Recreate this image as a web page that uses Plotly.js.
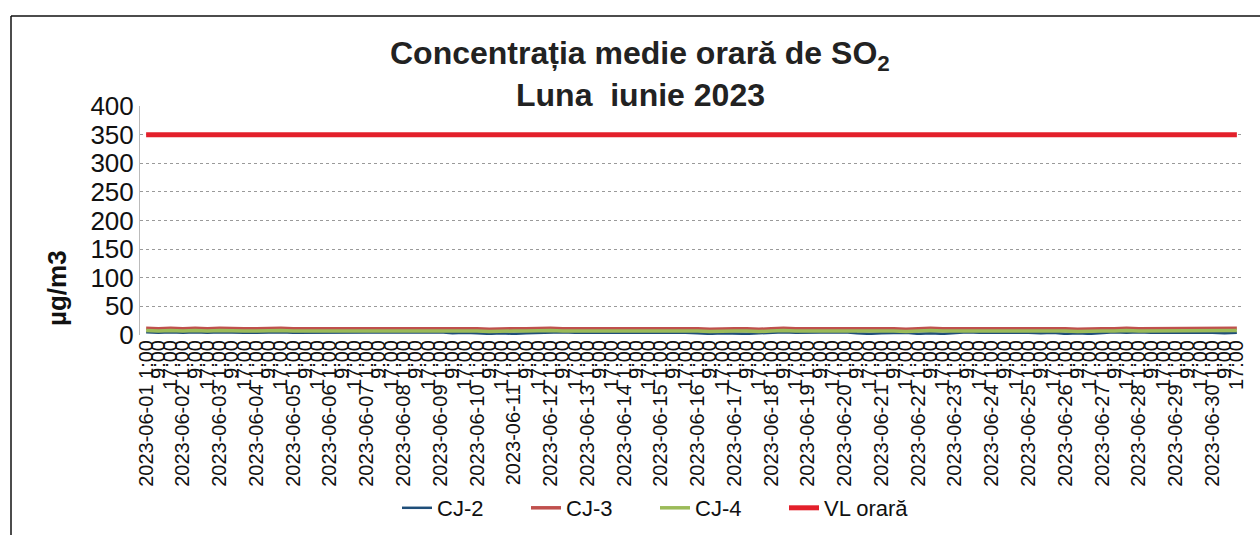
<!DOCTYPE html>
<html>
<head>
<meta charset="utf-8">
<script src="https://cdn.plot.ly/plotly-3.0.1.min.js"></script>
<style>
html,body{margin:0;padding:0;background:#fff;}
#chart{width:1260px;height:535px;}
</style>
</head>
<body>
<div id="chart"></div>
<script>
// ---- data ----
var days = ['2023-06-01','2023-06-02','2023-06-03','2023-06-04','2023-06-05','2023-06-06','2023-06-07','2023-06-08','2023-06-09','2023-06-10',
            '2023-06-11','2023-06-12','2023-06-13','2023-06-14','2023-06-15','2023-06-16','2023-06-17','2023-06-18','2023-06-19','2023-06-20',
            '2023-06-21','2023-06-22','2023-06-23','2023-06-24','2023-06-25','2023-06-26','2023-06-27','2023-06-28','2023-06-29','2023-06-30'];
var hours = ['1:00','9:00','17:00'];

var cj2 = [5,4,5, 4,5,4, 5,4,4, 4,5,5, 4,4,5, 5,4,4, 4,5,4, 4,4,5, 5,3,4, 3,2,3,
           2,3,4, 4,5,4, 4,5,4, 4,4,5, 5,4,4, 3,2,3, 2,2,3, 4,5,4, 4,4,5, 5,3,2,
           3,4,4, 2,3,2, 4,5,4, 4,4,5, 4,3,4, 2,3,2, 4,5,4, 5,4,4, 4,5,4, 4,3,4];
var cj3 = [12,11,12, 11,12,11, 12,11,11, 11,12,12, 11,11,12, 12,11,11, 11,12,11, 11,11,12, 12,11,11, 11,10,11,
           11,11,12, 12,11,11, 11,12,11, 11,11,12, 12,11,11, 11,10,11, 11,11,10, 11,12,11, 11,11,12, 12,11,11,
           11,11,10, 11,12,11, 11,11,12, 11,11,11, 12,11,11, 11,10,11, 11,11,12, 11,11,11, 11,12,11, 11,11,12];
var cj4 = [8,7,8, 7,8,7, 8,7,7, 7,8,8, 7,7,8, 8,7,7, 7,8,7, 7,7,8, 8,7,7, 7,6,7,
           7,7,8, 8,7,7, 7,8,7, 7,7,8, 8,7,7, 7,6,7, 7,7,6, 7,8,7, 7,7,8, 8,7,7,
           7,7,6, 7,8,7, 7,7,8, 7,7,7, 8,7,7, 7,6,7, 7,7,8, 7,7,7, 7,8,7, 7,7,8];
var vlOrara = 350;

var titleLine1 = '<b>Concentrația medie orară de SO<sub>2</sub></b>';
var titleLine2 = '<b>Luna  iunie 2023</b>';
var yTitle = '<b>µg/m3</b>';

// ---- categories / tick labels ----
var cats = [], tickText = [];
days.forEach(function(d){
  hours.forEach(function(h, i){
    cats.push(d + ' ' + h);
    tickText.push(i === 0 ? d + ' ' + h : h);
  });
});
var vl = cats.map(function(){ return vlOrara; });

var W = 1260, H = 535;
var M = {l:140, r:17, t:106, b:200};
var pw = W - M.l - M.r, ph = H - M.t - M.b;
function px2x(p){ return (p - M.l) / pw; }
function px2y(p){ return (H - M.b - p) / ph; }

var traces = [
  {x:cats, y:cj2, name:'CJ-2', type:'scatter', mode:'lines', line:{color:'#1f4e79', width:2.5}},
  {x:cats, y:cj3, name:'CJ-3', type:'scatter', mode:'lines', line:{color:'#c0504d', width:3.5}},
  {x:cats, y:cj4, name:'CJ-4', type:'scatter', mode:'lines', line:{color:'#9bbb59', width:3.5}},
  {x:cats, y:vl, name:'VL orară', type:'scatter', mode:'lines', line:{color:'#e3202b', width:5}}
];

var layout = {
  width:W, height:H,
  margin:M,
  paper_bgcolor:'#fff', plot_bgcolor:'#fff',
  font:{family:'Liberation Sans, Arial, sans-serif', color:'#111'},
  xaxis:{
    type:'category',
    range:[-0.5, cats.length - 0.5],
    tickmode:'array', tickvals:cats, ticktext:tickText,
    tickangle:-90,
    tickfont:{size:20, color:'#111'},
    showgrid:false, zeroline:false,
    showline:false, ticks:'',
    automargin:false
  },
  yaxis:{
    range:[0,400], tick0:0, dtick:50,
    tickfont:{size:26, color:'#111'},
    showgrid:true, gridcolor:'#9a9a9a', griddash:'dot', gridwidth:1,
    zeroline:false,
    showline:true, linecolor:'#bbb', linewidth:1,
    ticks:'', ticklen:0,
    automargin:false
  },
  showlegend:true,
  legend:{
    orientation:'h',
    xref:'container', x:397/1260, xanchor:'left',
    yref:'container', y:1 - 508/535, yanchor:'middle',
    font:{size:22, color:'#111'},
    entrywidth:84, entrywidthmode:'pixels',
    traceorder:'normal'
  },
  annotations:[
    {text:titleLine1, xref:'paper', yref:'paper', x:px2x(640), y:px2y(56),
     xanchor:'center', yanchor:'middle', showarrow:false, font:{size:32, color:'#222'}},
    {text:titleLine2, xref:'paper', yref:'paper', x:px2x(640), y:px2y(95),
     xanchor:'center', yanchor:'middle', showarrow:false, font:{size:32, color:'#222'}},
    {text:yTitle, textangle:-90, xref:'paper', yref:'paper',
     x:px2x(57), y:px2y(288), xanchor:'center', yanchor:'middle',
     showarrow:false, font:{size:26, color:'#111'}}
  ],
  shapes:[
    {type:'line', xref:'paper', yref:'paper', x0:px2x(11), x1:px2x(1262), y0:px2y(16), y1:px2y(16),
     line:{color:'#111', width:1.5}},
    {type:'line', xref:'paper', yref:'paper', x0:px2x(11), x1:px2x(11), y0:px2y(16), y1:px2y(540),
     line:{color:'#111', width:1.5}}
  ]
};

Plotly.newPlot('chart', traces, layout, {displayModeBar:false, staticPlot:true});
</script>
</body>
</html>
